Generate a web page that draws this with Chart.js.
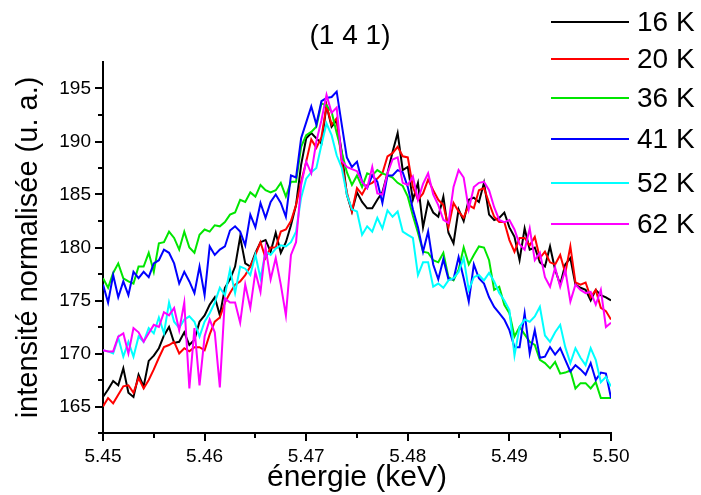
<!DOCTYPE html>
<html>
<head>
<meta charset="utf-8">
<script src="https://cdn.jsdelivr.net/npm/chart.js@4.4.1/dist/chart.umd.min.js"></script>
<style>
  html, body { margin: 0; padding: 0; background: #fff; }
  #wrap { width: 701px; height: 495px; }
</style>
</head>
<body>
<div id="wrap"><canvas id="spectre"></canvas></div>
<script>
// spectres (1 4 1), pas de 0.0005 keV de 5.45 a 5.50
const temp16 = [165.9,166.6,167.4,167.0,168.6,166.3,165.9,168.0,166.9,169.3,
  169.8,170.5,171.7,172.5,171.0,171.1,172.0,170.8,171.3,173.0,
  173.6,174.6,175.3,173.6,176.2,177.0,178.2,181.0,178.5,178.2,
  179.5,180.5,180.7,179.6,181.4,179.5,180.5,182.1,184.0,187.8,
  190.3,190.8,190.3,189.8,193.4,191.4,192.0,189.0,185.0,183.4,
  185.2,184.3,183.7,183.7,184.5,185.2,187.0,189.0,190.8,187.3,
  187.6,184.5,186.1,181.9,184.3,183.3,182.9,184.8,181.4,180.4,
  183.6,182.5,184.5,184.7,184.3,186.1,183.1,182.6,182.8,183.3,
  181.9,181.0,178.8,181.8,179.8,180.0,178.6,178.2,180.1,177.9,
  176.5,178.4,179.0,176.5,176.2,176.0,175.0,176.0,175.5,175.3,175.0];

const temp20 = [165.0,165.8,165.3,166.1,166.9,167.0,166.3,167.7,166.7,167.5,
  168.5,169.6,170.6,170.8,171.1,170.0,170.5,170.2,170.6,170.6,
  170.3,171.8,173.0,173.4,174.8,175.7,176.5,176.8,177.4,178.2,
  179.3,180.5,179.0,180.0,180.0,181.5,181.7,182.5,184.0,186.2,
  188.1,190.2,189.4,190.4,193.4,191.6,192.2,188.0,185.2,183.4,
  185.6,185.0,185.9,186.1,186.5,187.0,188.6,188.9,189.5,188.6,
  188.5,185.7,184.5,185.1,186.4,185.4,184.5,184.0,181.9,184.2,
  183.4,182.8,184.0,183.7,185.4,185.6,184.2,182.9,182.4,182.4,
  180.7,179.6,180.9,180.9,180.2,181.0,179.0,179.6,178.6,178.4,
  179.3,177.6,180.1,176.7,176.5,176.7,175.3,176.0,174.3,174.0,173.2];

const temp36 = [177.1,176.2,177.6,178.5,177.1,176.8,176.6,178.2,178.2,179.5,
  177.7,180.4,180.5,181.5,180.9,179.8,181.5,180.0,179.5,181.2,
  181.7,181.5,182.1,182.0,182.4,183.1,183.3,184.5,184.3,185.2,
  184.8,185.9,185.4,185.2,185.4,186.1,184.8,186.2,186.2,189.5,
  190.6,190.9,191.4,193.6,193.4,192.8,190.8,189.0,187.1,185.9,
  186.8,185.7,187.0,186.8,187.3,187.0,186.8,186.6,186.1,185.8,
  184.8,183.0,181.4,179.6,179.5,178.8,178.6,179.5,177.2,176.9,
  177.9,180.0,178.4,179.3,180.1,180.0,178.8,176.0,176.3,174.6,
  173.8,171.6,172.5,171.8,171.1,170.8,169.4,169.1,168.6,169.2,
  168.1,168.2,168.4,166.7,167.2,167.2,166.7,167.3,165.8,165.8,165.8];

const temp41 = [176.5,174.8,177.4,175.3,176.8,175.5,177.7,177.1,177.7,177.2,
  178.5,178.8,179.8,179.5,178.5,176.6,177.7,176.8,175.7,178.2,
  175.5,180.1,179.3,179.8,180.1,181.6,182.0,181.5,180.2,183.1,
  181.9,184.2,182.8,184.3,185.0,184.2,182.9,186.8,186.6,190.3,
  191.8,193.3,191.6,193.8,194.1,194.2,194.7,191.6,188.5,187.6,
  188.1,186.2,185.6,186.8,186.2,184.2,186.8,186.8,187.3,187.1,
  185.7,183.6,181.9,179.6,181.5,178.4,177.0,178.9,177.0,177.0,
  179.1,177.1,174.9,178.4,177.1,176.6,175.3,174.4,173.8,173.2,
  172.2,170.6,170.6,173.8,170.0,172.2,169.6,169.7,170.6,169.9,
  170.5,169.4,168.3,168.9,168.5,168.0,169.1,167.5,168.2,168.1,165.8];

const temp52 = [170.3,170.2,170.0,171.5,169.7,171.1,169.7,171.6,171.1,172.4,
  171.9,173.4,171.9,174.8,173.0,172.4,173.2,173.5,173.0,171.6,
  173.0,173.8,174.8,176.2,175.5,177.9,175.7,178.2,178.0,177.4,
  179.3,177.1,179.6,179.3,179.9,180.2,180.1,180.5,181.5,184.7,
  186.5,187.1,187.5,189.7,191.7,190.6,188.7,187.5,185.0,183.6,
  183.4,181.2,182.0,181.5,182.8,181.8,183.5,182.9,183.4,181.5,
  181.2,180.9,177.4,178.6,178.6,176.3,176.6,176.2,176.9,177.1,
  177.7,179.0,176.0,177.2,177.4,176.9,177.6,176.8,175.7,175.0,
  174.1,169.8,172.5,173.2,173.0,173.5,174.4,171.7,171.1,172.0,
  172.7,170.6,169.1,170.5,169.6,168.9,170.5,169.4,167.3,167.8,166.9];

const temp62 = [170.3,170.2,170.2,171.6,171.9,170.0,172.4,172.0,171.1,171.9,
  172.7,172.5,173.9,173.6,174.3,172.2,174.8,166.7,172.4,167.0,
  171.6,173.2,172.0,166.8,175.2,174.8,174.8,172.9,176.5,174.3,
  177.7,175.8,180.0,177.0,179.0,176.5,173.6,179.3,180.5,185.9,
  188.1,187.0,190.0,192.0,194.4,192.7,193.2,188.2,187.6,187.4,
  187.2,186.2,185.6,187.6,185.1,185.0,187.0,188.3,188.5,186.1,
  185.9,186.7,184.5,186.0,187.0,185.0,184.0,182.6,182.3,185.7,
  187.3,186.6,183.6,185.7,186.1,186.2,185.4,183.8,182.6,182.4,
  182.6,181.7,180.3,179.8,181.8,178.8,179.5,177.2,176.3,178.1,
  176.3,177.9,174.9,176.5,176.0,175.7,175.8,174.6,176.0,172.5,172.9];

const seriesLabels = ['16 K', '20 K', '36 K', '41 K', '52 K', '62 K'];
const seriesColors = ['#000000', '#ff0000', '#00e600', '#0000ff', '#00ffff', '#ff00ff'];
const allSeries = [temp16, temp20, temp36, temp41, temp52, temp62];
const chartTitle = '(1 4 1)';

// grille en energie (pas constant du spectrometre)
const energies = temp16.map((_, i) => +(5.45 + i * 0.0005).toFixed(4));

Chart.defaults.font.family = "'Liberation Sans', Arial, sans-serif";
Chart.defaults.color = '#000';

// petites graduations / grandes graduations vers l'exterieur
const tickMarks = {
  id: 'tickMarks',
  afterDraw(chart) {
    const ctx = chart.ctx;
    const xs = chart.scales.x, ys = chart.scales.y;
    ctx.save();
    ctx.strokeStyle = '#000';
    ctx.lineWidth = 2;
    ctx.beginPath();
    xs.ticks.forEach(t => {
      const px = Math.round(xs.getPixelForValue(t.value));
      const len = t.label ? 8 : 5;
      ctx.moveTo(px, xs.top);
      ctx.lineTo(px, xs.top + len);
    });
    ys.ticks.forEach(t => {
      if (t.value >= 197.4) return;
      const py = Math.round(ys.getPixelForValue(t.value));
      const len = t.label ? 8 : 5;
      ctx.moveTo(ys.right, py);
      ctx.lineTo(ys.right - len, py);
    });
    ctx.stroke();
    ctx.restore();
  }
};

// titre + legende dessines a la main (le titre deborde de la zone du graphe)
const sideLegend = {
  id: 'sideLegend',
  afterDraw(chart) {
    const ctx = chart.ctx;
    const rows = [22, 59, 98, 139, 183, 224];
    ctx.save();
    ctx.font = "28px 'Liberation Sans', Arial, sans-serif";
    ctx.textBaseline = 'middle';
    ctx.fillStyle = '#000';
    ctx.textAlign = 'center';
    ctx.fillText(chartTitle, 350, 36);
    ctx.textAlign = 'left';
    chart.data.datasets.forEach((ds, i) => {
      const y = rows[i];
      ctx.strokeStyle = ds.borderColor;
      ctx.lineWidth = 2;
      ctx.beginPath();
      ctx.moveTo(551, y);
      ctx.lineTo(629, y);
      ctx.stroke();
      ctx.fillText(ds.label, 637, y + 1);
    });
    ctx.restore();
  }
};

const ctx = document.getElementById('spectre');
const chart = new Chart(ctx, {
  type: 'line',
  plugins: [tickMarks, sideLegend],
  data: {
    datasets: allSeries.map((vals, i) => ({
      label: seriesLabels[i],
      data: vals.map((v, j) => ({ x: energies[j], y: v })),
      borderColor: seriesColors[i],
      backgroundColor: seriesColors[i],
      borderWidth: 2,
      pointRadius: 0,
      tension: 0,
      fill: false,
      order: 5 - i
    }))
  },
  options: {
    responsive: true,
    maintainAspectRatio: false,
    animation: false,
    devicePixelRatio: 1,
    layout: { padding: { top: 62, right: 90, bottom: 0, left: 0 } },
    plugins: {
      legend: { display: false },
      tooltip: { enabled: false },
      title: { display: false }
    },
    scales: {
      x: {
        type: 'linear',
        min: 5.45,
        max: 5.50,
        grid: { display: false, drawTicks: true, tickLength: 8 },
        border: { display: true, color: '#000', width: 2 },
        ticks: {
          stepSize: 0.005,
          autoSkip: false,
          maxRotation: 0,
          padding: 4,
          color: '#000',
          font: { size: 19 },
          callback: v => Math.abs(v * 100 - Math.round(v * 100)) < 1e-6 ? v.toFixed(2) : ''
        },
        title: {
          display: true,
          text: 'énergie (keV)',
          color: '#000',
          font: { size: 30, lineHeight: 1.15 },
          padding: { top: 0, bottom: 0 }
        },
        afterFit: s => { s.height = 62; }
      },
      y: {
        min: 162.5,
        max: 197.5,
        grid: { display: false, drawTicks: true, tickLength: 8 },
        border: { display: true, color: '#000', width: 2 },
        ticks: {
          stepSize: 2.5,
          padding: 4,
          color: '#000',
          font: { size: 19 },
          callback: v => (Math.abs(v % 5) < 1e-6 ? String(v) : '')
        },
        title: {
          display: true,
          text: 'intensité normalisée (u. a.)',
          color: '#000',
          font: { size: 29, lineHeight: 1.2 },
          padding: { top: 12, bottom: 0 }
        },
        afterFit: s => { s.width = 103; }
      }
    }
  }
});
</script>
</body>
</html>
